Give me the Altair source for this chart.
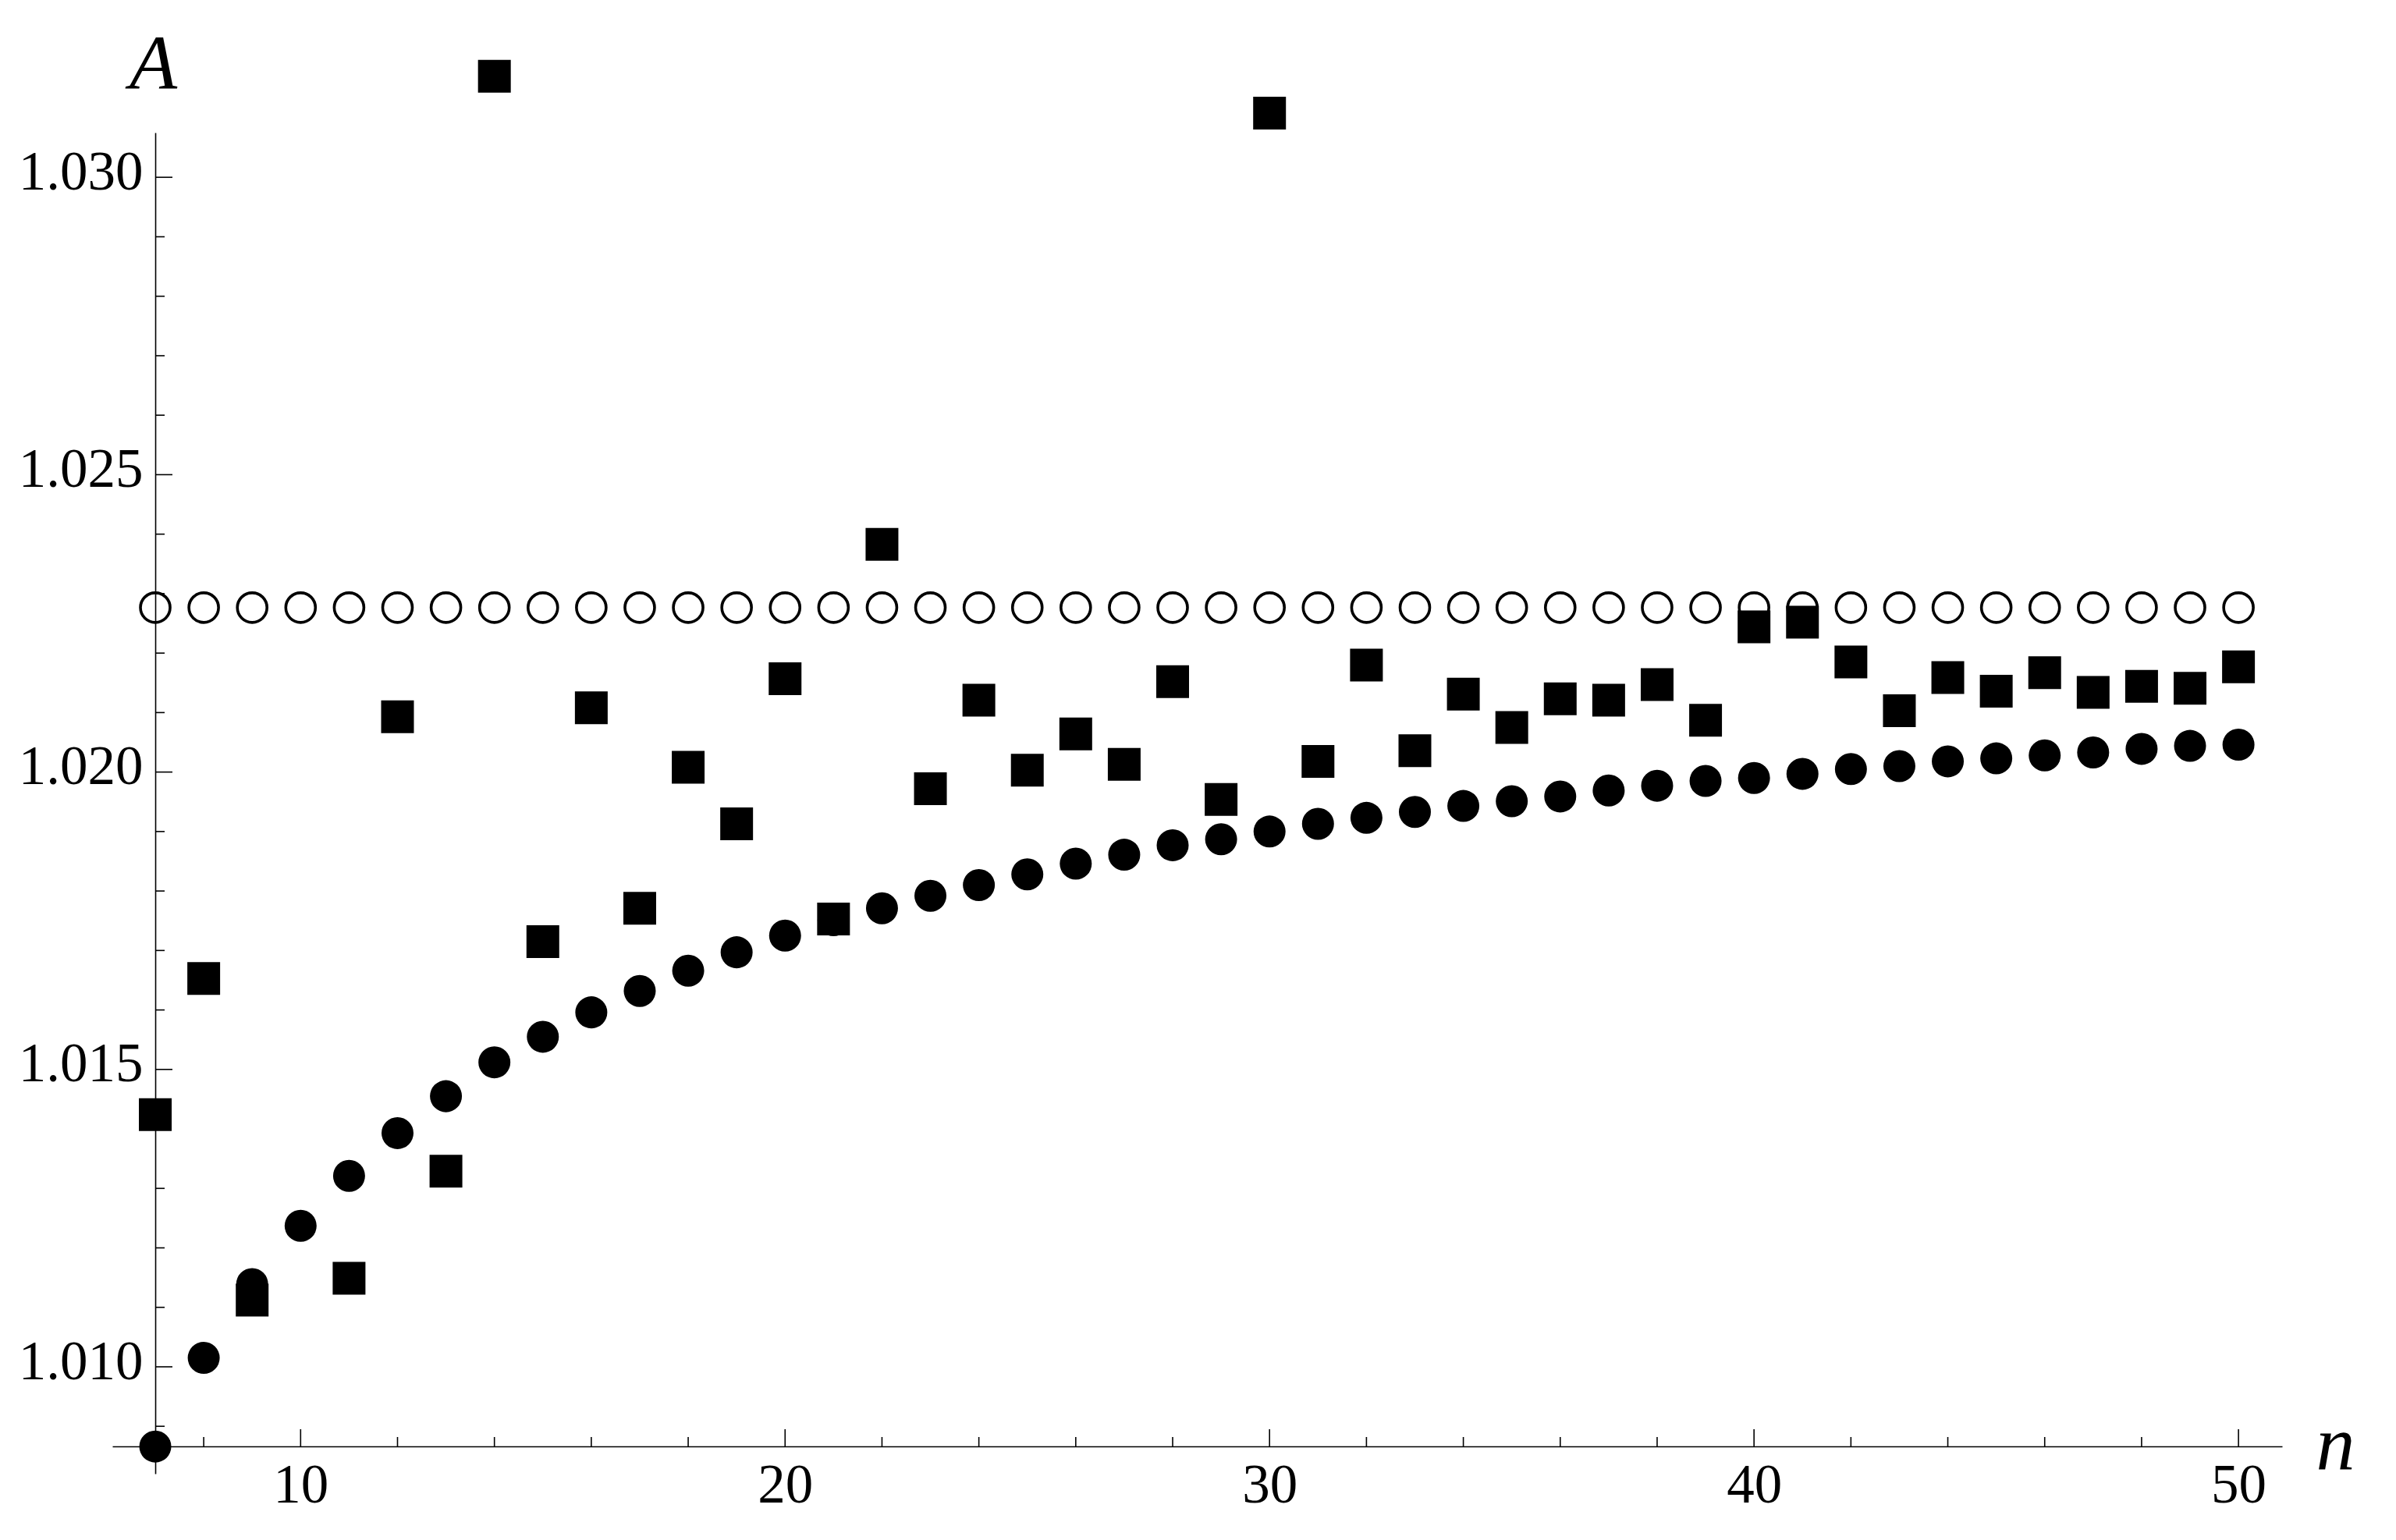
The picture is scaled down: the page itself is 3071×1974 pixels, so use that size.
import altair as alt
import pandas as pd

# ---- data ----
n_values = list(range(7, 51))

filled_circles = [1.00866, 1.01015, 1.01139, 1.01237, 1.01321, 1.01393, 1.01455, 1.01512,
                  1.01555, 1.01596, 1.01632, 1.01666, 1.01697, 1.01725, 1.01751, 1.01771,
                  1.01792, 1.01810, 1.01828, 1.01846, 1.01861, 1.01877, 1.01887, 1.01900,
                  1.01913, 1.01923, 1.01933, 1.01943, 1.01951, 1.01959, 1.01969, 1.01977,
                  1.01985, 1.01990, 1.01997, 1.02005, 1.02010, 1.02018, 1.02023, 1.02028,
                  1.02033, 1.02039, 1.02044, 1.02046]

squares = [1.01424, 1.01653, 1.01112, None, 1.01149, 1.02093, 1.01329, 1.03170,
           1.01715, 1.02108, 1.01771, 1.02008, 1.01913, 1.02157, 1.01753, 1.02383,
           1.01972, 1.02121, 1.02003, 1.02064, 1.02013, 1.02152, 1.01954, 1.03108,
           1.02018, 1.02180, 1.02036, 1.02131, 1.02075, 1.02123, 1.02121, 1.02147,
           1.02087, 1.02244, 1.02252, 1.02185, 1.02103, 1.02159, 1.02136, 1.02167,
           1.02134, 1.02144, 1.02141, 1.02177]

open_circles = [1.022765] * len(n_values)

x_major_ticks = [10, 20, 30, 40, 50]
x_minor_ticks = [8, 12, 14, 16, 18, 22, 24, 26, 28, 32, 34, 36, 38, 42, 44, 46, 48]
y_major_ticks = [1.010, 1.015, 1.020, 1.025, 1.030]
y_minor_ticks = [1.009, 1.011, 1.012, 1.013, 1.014, 1.016, 1.017, 1.018, 1.019,
                 1.021, 1.022, 1.023, 1.024, 1.026, 1.027, 1.028, 1.029]

x_domain = [6.114, 50.9]
y_domain = [1.008203, 1.030751]
x_axis_at = 1.008662   # y value where the horizontal axis crosses
y_axis_at = 7          # x value where the vertical axis crosses

# ---- layout ----
W = 2781
H = 1719
px_per_x = W / (x_domain[1] - x_domain[0])
px_per_y = H / (y_domain[1] - y_domain[0])
y_axis_offset = -(y_axis_at - x_domain[0]) * px_per_x
x_axis_offset = -(x_axis_at - y_domain[0]) * px_per_y

FONT = "Liberation Serif"

df = pd.DataFrame({"n": n_values, "filled": filled_circles,
                   "square": squares, "open": open_circles})
sq_df = df.dropna(subset=["square"])

xscale = alt.Scale(domain=x_domain, nice=False, zero=False)
yscale = alt.Scale(domain=y_domain, nice=False, zero=False)

xaxis = alt.Axis(orient="bottom", offset=x_axis_offset, values=x_major_ticks,
                 format="d", grid=False, ticks=False, tickSize=0,
                 domain=True, domainColor="black", domainWidth=1.6,
                 labelFont=FONT, labelFontSize=71, labelColor="black",
                 labelPadding=15, labelFlush=False, labelOverlap=False,
                 title="n", titleFont=FONT, titleFontStyle="italic",
                 titleFontWeight="normal", titleFontSize=100, titleColor="black",
                 titleAlign="left", titleBaseline="alphabetic",
                 titleX=2824, titleY=28, titleAngle=0)

yaxis = alt.Axis(orient="left", offset=y_axis_offset, values=y_major_ticks,
                 format=".3f", grid=False, ticks=False, tickSize=0,
                 domain=True, domainColor="black", domainWidth=1.6,
                 labelFont=FONT, labelFontSize=71, labelColor="black",
                 labelPadding=16, labelOffset=-6, labelFlush=False, labelOverlap=False,
                 title="A", titleFont=FONT, titleFontStyle="italic",
                 titleFontWeight="normal", titleFontSize=100, titleColor="black",
                 titleAlign="center", titleBaseline="alphabetic",
                 titleX=-3, titleY=-57, titleAngle=0)

base = alt.Chart(df)

open_layer = base.mark_point(shape="circle", filled=False, size=1444, strokeWidth=3.6,
                             color="black", opacity=1, clip=False).encode(
    x=alt.X("n:Q", scale=xscale, axis=xaxis),
    y=alt.Y("open:Q", scale=yscale, axis=yaxis),
)

filled_layer = base.mark_point(shape="circle", filled=True, size=1681, color="black",
                               opacity=1, strokeWidth=0, clip=False).encode(
    x=alt.X("n:Q", scale=xscale),
    y=alt.Y("filled:Q", scale=yscale),
)

square_layer = alt.Chart(sq_df).mark_point(shape="square", filled=True, size=1764,
                                           color="black", opacity=1, strokeWidth=0,
                                           clip=False).encode(
    x=alt.X("n:Q", scale=xscale),
    y=alt.Y("square:Q", scale=yscale),
)

xt_major = alt.Chart(pd.DataFrame({"t": x_major_ticks})).mark_tick(
    orient="vertical", size=22, thickness=1.6, color="black", opacity=1, yOffset=-11
).encode(x=alt.X("t:Q", scale=xscale), y=alt.datum(x_axis_at, scale=yscale))

xt_minor = alt.Chart(pd.DataFrame({"t": x_minor_ticks})).mark_tick(
    orient="vertical", size=12, thickness=1.6, color="black", opacity=1, yOffset=-6
).encode(x=alt.X("t:Q", scale=xscale), y=alt.datum(x_axis_at, scale=yscale))

yt_major = alt.Chart(pd.DataFrame({"t": y_major_ticks})).mark_tick(
    orient="horizontal", size=22, thickness=1.6, color="black", opacity=1, xOffset=11
).encode(y=alt.Y("t:Q", scale=yscale), x=alt.datum(y_axis_at, scale=xscale))

yt_minor = alt.Chart(pd.DataFrame({"t": y_minor_ticks})).mark_tick(
    orient="horizontal", size=12, thickness=1.6, color="black", opacity=1, xOffset=6
).encode(y=alt.Y("t:Q", scale=yscale), x=alt.datum(y_axis_at, scale=xscale))

chart = alt.layer(
    open_layer, xt_major, xt_minor, yt_major, yt_minor, square_layer, filled_layer
).properties(
    width=W, height=H,
    autosize=alt.AutoSizeParams(type="none"),
    padding={"left": 136, "top": 162, "right": 110, "bottom": 60},
    background="white",
).configure_view(strokeWidth=0)

chart.save("out.html", embed_options={"renderer": "svg", "actions": False})
